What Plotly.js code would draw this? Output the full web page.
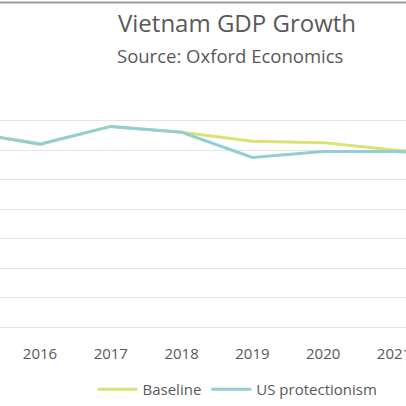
<!DOCTYPE html>
<html>
<head>
<meta charset="utf-8">
<script src="https://cdn.plot.ly/plotly-3.0.1.min.js"></script>
<style>html,body{margin:0;padding:0;background:#fff;overflow:hidden;}</style>
</head>
<body>
<div id="chart" style="width:406px;height:406px;"></div>
<script>
const years = [2015, 2016, 2017, 2018, 2019, 2020, 2021, 2022];
const baseline = [6.6, 6.2, 6.8, 6.6, 6.3, 6.25, 6.0, 5.85];
const protectionism = [6.6, 6.2, 6.8, 6.6, 5.75, 5.95, 5.95, 5.85];
const tickYears = [2016, 2017, 2018, 2019, 2020, 2021];
const seriesNames = ['Baseline', 'US protectionism'];

const data = [
  {x: years, y: baseline, name: seriesNames[0], type: 'scatter', mode: 'lines',
   line: {color: '#dbe271', width: 3}},
  {x: years, y: protectionism, name: seriesNames[1], type: 'scatter', mode: 'lines',
   line: {color: '#92cfd4', width: 3}}
];

const layout = {
  width: 406, height: 406,
  margin: {l: 0, r: 0, t: 91, b: 78},
  paper_bgcolor: '#ffffff', plot_bgcolor: '#ffffff',
  font: {family: 'Open Sans, sans-serif', color: '#595959'},
  showlegend: true,
  xaxis: {
    range: [2015.435, 2021.17], tickvals: tickYears, ticktext: tickYears.map(String),
    showgrid: false, zeroline: false, showline: true, linecolor: '#e4e4e4', linewidth: 1,
    ticks: 'outside', ticklen: 13, tickcolor: 'rgba(0,0,0,0)',
    ticklabeloverflow: 'allow',
    tickfont: {size: 15, color: '#595959'}, fixedrange: true
  },
  yaxis: {
    range: [0, 8], dtick: 1, showticklabels: false, showgrid: true,
    gridcolor: '#e4e4e4', gridwidth: 1, zeroline: false, fixedrange: true
  },
  legend: {
    orientation: 'h', x: 0.585, xanchor: 'center', y: -0.195, yanchor: 'top',
    font: {size: 15, color: '#595959'}, itemwidth: 40, traceorder: 'normal'
  },
  annotations: [
    {text: 'Vietnam GDP Growth', xref: 'paper', yref: 'paper', x: 0.584, xanchor: 'center',
     y: 1 + (91 - 22) / 237, yanchor: 'middle', showarrow: false,
     font: {size: 24, color: '#595959'}},
    {text: 'Source: Oxford Economics', xref: 'paper', yref: 'paper', x: 0.567, xanchor: 'center',
     y: 1 + (91 - 55) / 237, yanchor: 'middle', showarrow: false,
     font: {size: 18.5, color: '#595959'}}
  ],
  shapes: [
    {type: 'line', xref: 'paper', yref: 'paper', x0: 0, x1: 1,
     y0: 1 + (91 - 2) / 237, y1: 1 + (91 - 2) / 237,
     line: {color: '#9a9a9a', width: 2}}
  ]
};

Plotly.newPlot('chart', data, layout, {displayModeBar: false, staticPlot: true});
</script>
</body>
</html>
